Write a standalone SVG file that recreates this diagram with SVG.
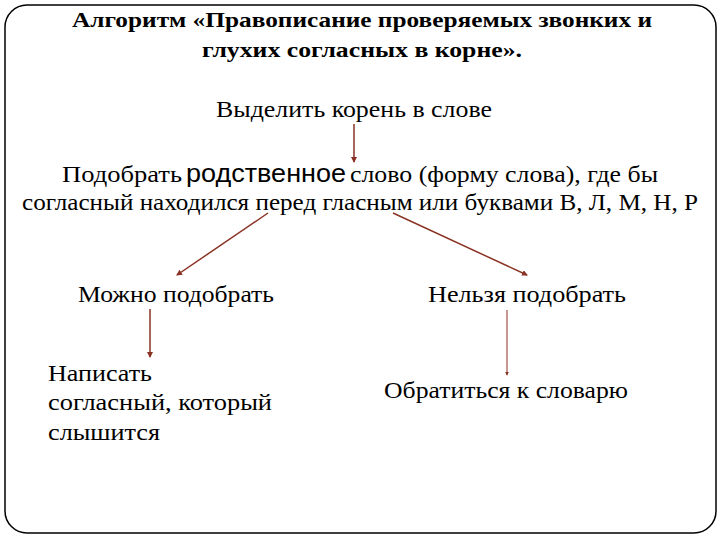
<svg xmlns="http://www.w3.org/2000/svg" width="720" height="540" viewBox="0 0 720 540">
<style>
.t{font-family:"Liberation Serif","DejaVu Serif",serif;font-size:23px;fill:#000}
.b{font-weight:bold;font-size:22px}
.s{font-family:"Liberation Sans","DejaVu Sans",sans-serif;font-size:25px}
.c{stroke:#8a3324;stroke-width:1.5;fill:none;marker-end:url(#ah)}
</style>
<defs>
<marker id="ah" viewBox="0 0 6 6" refX="5" refY="3" markerWidth="4" markerHeight="4" orient="auto" markerUnits="strokeWidth">
<path d="M0,0 L6,3 L0,6 z" fill="#8a3324"/>
</marker>
</defs>
<rect x="5" y="5" width="711" height="528" rx="22" ry="22" fill="#fff" stroke="#000" stroke-width="1.5"/>
<g id="title">
<text class="t b" x="72" y="27" textLength="580" lengthAdjust="spacingAndGlyphs">Алгоритм «Правописание проверяемых звонких и</text>
<text class="t b" x="202" y="57" textLength="320" lengthAdjust="spacingAndGlyphs">глухих согласных в корне».</text>
</g>
<g id="n1"><text class="t" x="216" y="117" textLength="276" lengthAdjust="spacingAndGlyphs">Выделить корень в слове</text></g>
<g id="n2">
<text class="t" x="62" y="182" textLength="120" lengthAdjust="spacingAndGlyphs">Подобрать</text>
<text class="t s" x="186" y="182" textLength="160" lengthAdjust="spacingAndGlyphs">родственное</text>
<text class="t" x="350" y="182" textLength="308" lengthAdjust="spacingAndGlyphs">слово (форму слова), где бы</text>
<text class="t" x="22" y="210" textLength="676" lengthAdjust="spacingAndGlyphs">согласный находился перед гласным или буквами В, Л, М, Н, Р</text>
</g>
<g id="n3"><text class="t" x="78" y="302" textLength="196" lengthAdjust="spacingAndGlyphs">Можно подобрать</text></g>
<g id="n4"><text class="t" x="428" y="302" textLength="198" lengthAdjust="spacingAndGlyphs">Нельзя подобрать</text></g>
<g id="n5">
<text class="t" x="48" y="381" textLength="104" lengthAdjust="spacingAndGlyphs">Написать</text>
<text class="t" x="48" y="410" textLength="224" lengthAdjust="spacingAndGlyphs">согласный, который</text>
<text class="t" x="48" y="440" textLength="112" lengthAdjust="spacingAndGlyphs">слышится</text>
</g>
<g id="n6"><text class="t" x="384" y="398" textLength="244" lengthAdjust="spacingAndGlyphs">Обратиться к словарю</text></g>
<g id="connectors">
<line class="c" x1="354" y1="124" x2="354" y2="162"/>
<line class="c" x1="268" y1="213" x2="177" y2="275"/>
<line class="c" x1="393" y1="213" x2="527" y2="275"/>
<line class="c" x1="150" y1="309" x2="150" y2="357"/>
<line class="c" x1="507" y1="310" x2="507" y2="375" style="stroke-width:1"/>
</g>
</svg>
